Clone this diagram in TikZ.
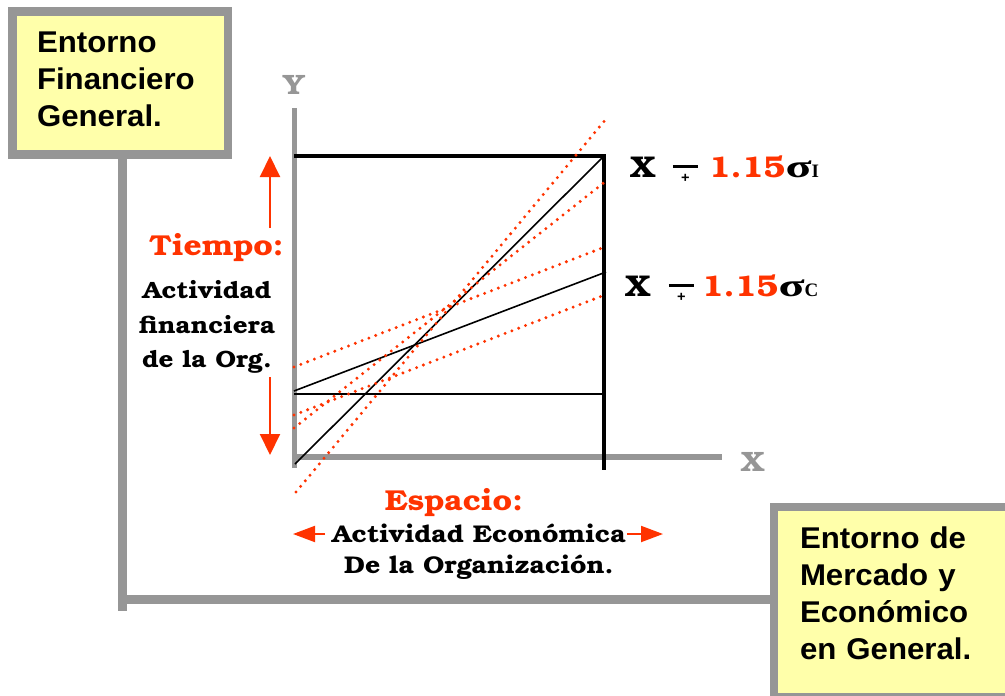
\documentclass[tikz,border=0pt]{standalone}
\usepackage{fontspec}
\setmainfont{TeX Gyre Bonum}[FakeStretch=1.1]
\newfontfamily\arialfont{Liberation Sans}[FakeStretch=1.04]
\newfontfamily\symfont{Liberation Serif}
\usetikzlibrary{arrows.meta,positioning}
\definecolor{tred}{HTML}{FF3300}
\definecolor{tgray}{HTML}{969696}
\definecolor{tyellow}{HTML}{FFFFAA}
\newcommand{\subsz}{\symfont\bfseries\fontsize{19}{19}\selectfont}
\newcommand{\sigmark}{\scalebox{1.5}[1]{\symfont\fontsize{32}{32}\selectfont σ}}
\newcommand{\mpmark}{\raisebox{-5.5pt}{\vbox{\offinterlineskip\hbox to 25pt{\rule{25pt}{3pt}}\kern6pt\hbox to 25pt{\hfil\arialfont\bfseries\fontsize{14}{14}\selectfont +\hfil}}}}

\begin{document}
\begin{tikzpicture}[x=1pt,y=-1pt,
  entbox/.style={draw=tgray,line width=8.5pt,fill=tyellow,anchor=north west,outer sep=0pt,inner ysep=0pt,align=left,font=\arialfont\bfseries\fontsize{30}{37}\selectfont},
  link/.style={draw=tgray,line width=8.5pt},
  axisline/.style={draw=tgray,line width=5.5pt},
  axlbl/.style={text=tgray,inner sep=0pt,font=\bfseries\fontsize{28}{28}\selectfont},
  frame/.style={line width=4.3pt},
  trend/.style={line width=1.6pt},
  band/.style={draw=tred,line width=3.3pt,line cap=round,dash pattern=on 0pt off 7.3pt},
  lbl/.style={inner sep=0pt,align=center,font=\bfseries\fontsize{23.6}{34.5}\selectfont},
  redlbl/.style={inner sep=0pt,text=tred,font=\bfseries\fontsize{28.8}{29}\selectfont},
  eqlbl/.style={inner sep=0pt,anchor=base west,font=\bfseries\fontsize{30}{30}\selectfont},
  varr/.style={draw=tred,line width=2pt,-{Triangle[length=21pt,width=20pt]}},
  harr/.style={draw=tred,line width=2pt,-{Triangle[length=22pt,width=16pt]}}
]
\clip (0,0) rectangle (1005,696);

% environment boxes and their link
\node[entbox,text width=166.5pt,inner xsep=24.5pt,minimum height=143pt,text depth=82pt] (finbox) at (12.5,11.5) {Entorno\\Financiero\\General.};
\node[entbox,text width=248pt,inner xsep=26pt,minimum height=190pt,text depth=129pt] (mktbox) at (774,507) {Entorno de\\Mercado y\\Económico\\en General.};
\coordinate (tail) at (122.5,611);
\coordinate (elbow) at (122.5,599.5);
\draw[link] (finbox.south -| tail) -- (tail);
\draw[link] (elbow) -- (elbow -| mktbox.west);

% axes
\coordinate (ybot) at (294.5,468);
\coordinate (ytop) at (294.5,108);
\coordinate (orig) at (294.5,457);
\coordinate (xend) at (722,457);
\draw[axisline] (ybot) -- (ytop);
\draw[axisline] (orig) -- (xend);
\node[axlbl] (ylbl) at (294,85) {Y};
\node[axlbl] (xlbl) at (753,462) {X};

% frame and trend lines
\coordinate (tl) at (294,156);
\coordinate (tr) at (604,156);
\coordinate (br) at (604,470);
\draw[frame] (tl) -- (tr) -- (br);
\draw[trend] (294,394) -- (606,394);
\draw[trend] (295,464) -- (605,155);
\draw[trend] (294,391) -- (606,272);
\foreach \a/\b in {{(296,492)}/{(606,119)},{(294,428)}/{(606,181)},{(294,367)}/{(602,248)},{(294,415)}/{(602,296)}}
  \draw[band] \a -- \b;

% band labels
\node[eqlbl] (bandi) at (630,177) {X\hspace{17pt}\mpmark\hspace{11pt}{\color{tred}1.15}\sigmark{\subsz I}};
\node[eqlbl] (bandc) at (625,296) {X\hspace{18pt}\mpmark\hspace{8pt}{\color{tred}1.15}\sigmark{\subsz C}};

% time axis label
\node[redlbl,anchor=base] (tiempo) at (216.5,255) {Tiempo:};
\node[lbl,anchor=north] (actfin) at (207,280.5) {Actividad\\financiera\\de la Org.};
\coordinate (uptail) at (270,228);
\coordinate (uptip) at (270,156);
\coordinate (dntail) at (270,377);
\coordinate (dntip) at (270,455);
\draw[varr] (uptail) -- (uptip);
\draw[varr] (dntail) -- (dntip);

% space axis label
\node[redlbl,anchor=base] (espacio) at (454,510) {Espacio:};
\node[lbl,anchor=north,font=\bfseries\fontsize{24.2}{31}\selectfont] (acteco) at (479,524) {Actividad Económica\\De la Organización.};
\coordinate (ltail) at (325,534);
\coordinate (ltip) at (293,534);
\coordinate (rtail) at (627,534);
\coordinate (rtip) at (663,534);
\draw[harr] (ltail) -- (ltip);
\draw[harr] (rtail) -- (rtip);
\end{tikzpicture}
\end{document}
